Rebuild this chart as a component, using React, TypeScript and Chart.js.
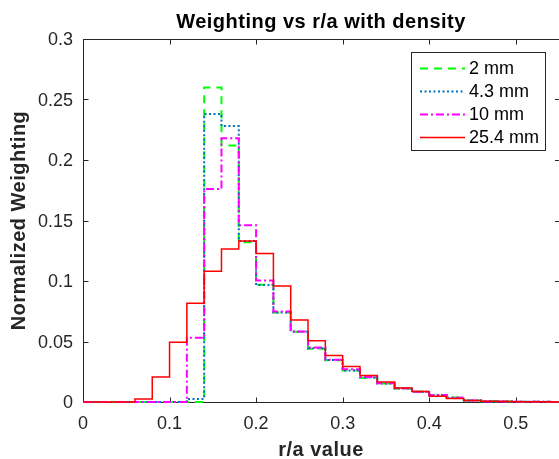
import React, { useEffect, useRef } from 'react';
import { Chart, registerables } from 'chart.js';

Chart.register(...registerables);

// r/a bin edges (left edge of each stairs step)
const binEdges = [
  0, 0.02, 0.04, 0.06, 0.08, 0.1, 0.12, 0.14, 0.16, 0.18,
  0.2, 0.22, 0.24, 0.26, 0.28, 0.3, 0.32, 0.34, 0.36, 0.38,
  0.4, 0.42, 0.44, 0.46, 0.48, 0.5, 0.52, 0.54, 0.56, 0.58,
];

const weight2mm = [
  0, 0, 0, 0, 0, 0, 0, 0.26, 0.212, 0.132,
  0.097, 0.074, 0.058, 0.044, 0.0345, 0.026, 0.02, 0.0152, 0.0112, 0.0085,
  0.0058, 0.0037, 0.0013, 0.0006, 0.0004, 0.0003, 0.0002, 0.0001, 0.0001, 0,
];

const weight4p3mm = [
  0, 0, 0, 0, 0, 0, 0.0025, 0.238, 0.228, 0.133,
  0.0967, 0.074, 0.058, 0.0445, 0.0347, 0.026, 0.0202, 0.0153, 0.0112, 0.0085,
  0.0058, 0.0036, 0.0013, 0.0006, 0.0004, 0.0003, 0.0002, 0.0001, 0.0001, 0,
];

const weight10mm = [
  0, 0, 0, 0, 0, 0, 0.053, 0.176, 0.218, 0.146,
  0.1005, 0.0747, 0.0582, 0.045, 0.035, 0.027, 0.0207, 0.0154, 0.0113, 0.0085,
  0.0058, 0.0036, 0.0012, 0.0005, 0.0004, 0.0003, 0.0002, 0.0001, 0.0001, 0,
];

const weight25p4mm = [
  0, 0, 0, 0.0025, 0.0206, 0.0494, 0.0816, 0.108, 0.1264, 0.133,
  0.1228, 0.0959, 0.0678, 0.0506, 0.0384, 0.0293, 0.022, 0.0165, 0.0115, 0.0087,
  0.0048, 0.0029, 0.0012, 0.0006, 0.0004, 0.0003, 0.0002, 0.0001, 0.0001, 0,
];

const seriesLabels = ['2 mm', '4.3 mm', '10 mm', '25.4 mm'];

const xTickValues = [0, 0.1, 0.2, 0.3, 0.4, 0.5];
const xTickLabels = ['0', '0.1', '0.2', '0.3', '0.4', '0.5'];
const yTickValues = [0, 0.05, 0.1, 0.15, 0.2, 0.25, 0.3];
const yTickLabels = ['0', '0.05', '0.1', '0.15', '0.2', '0.25', '0.3'];

const chartTitle = 'Weighting vs r/a with density';
const xAxisTitle = 'r/a value';
const yAxisTitle = 'Normalized Weighting';

const FONT = "'Liberation Sans', Arial, Helvetica, sans-serif";
const AXIS_COLOR = '#262626';

function setSpacing(ctx: any, v: string) {
  try {
    if ('letterSpacing' in ctx) ctx.letterSpacing = v;
  } catch (e) {
    /* ignore */
  }
}

const framePlugin = {
  id: 'frame',
  beforeDatasetsDraw(chart: any) {
    const { ctx, chartArea } = chart;
    const { left, right, top, bottom } = chartArea;
    const xs = chart.scales.x;
    const ys = chart.scales.y;
    const L = Math.round(left) + 0.5;
    const R = Math.round(right) - 0.5;
    const T = Math.round(top) + 0.5;
    const B = Math.round(bottom) + 0.5;
    ctx.save();
    ctx.strokeStyle = AXIS_COLOR;
    ctx.lineWidth = 1;
    ctx.beginPath();
    ctx.moveTo(L, T);
    ctx.lineTo(R + 2, T);
    ctx.moveTo(L, B);
    ctx.lineTo(R + 2, B);
    ctx.moveTo(L, T);
    ctx.lineTo(L, B);
    const tl = 5;
    xTickValues.forEach((v) => {
      const px = Math.round(xs.getPixelForValue(v)) + 0.5;
      ctx.moveTo(px, B);
      ctx.lineTo(px, B - tl);
      ctx.moveTo(px, T);
      ctx.lineTo(px, T + tl);
    });
    yTickValues.forEach((v) => {
      const py = Math.round(ys.getPixelForValue(v)) + 0.5;
      ctx.moveTo(L, py);
      ctx.lineTo(L + tl, py);
      ctx.moveTo(right + 1, py);
      ctx.lineTo(right + 1 - tl, py);
    });
    ctx.stroke();
    ctx.restore();
  },
  afterDraw(chart: any) {
    const { ctx, chartArea } = chart;
    ctx.save();
    // chart title
    ctx.fillStyle = '#000000';
    ctx.font = `bold 20px ${FONT}`;
    setSpacing(ctx, '0.5px');
    ctx.textAlign = 'center';
    ctx.textBaseline = 'alphabetic';
    ctx.fillText(chartTitle, (chartArea.left + chartArea.right) / 2, 28);

    // axis titles
    ctx.fillStyle = AXIS_COLOR;
    ctx.fillText(xAxisTitle, (chartArea.left + chartArea.right) / 2, 456);
    ctx.save();
    ctx.translate(25, (chartArea.top + chartArea.bottom) / 2);
    ctx.rotate(-Math.PI / 2);
    ctx.fillText(yAxisTitle, 0, 0);
    ctx.restore();
    setSpacing(ctx, '0px');

    // legend
    const bx = 411.5;
    const by = 52.5;
    const bw = 134;
    const bh = 98;
    ctx.fillStyle = '#ffffff';
    ctx.fillRect(bx, by, bw, bh);
    ctx.strokeStyle = AXIS_COLOR;
    ctx.lineWidth = 1;
    ctx.strokeRect(bx, by, bw, bh);
    const rowY = [68.5, 91.5, 114.5, 137.5];
    chart.data.datasets.forEach((ds: any, i: number) => {
      const y = rowY[i];
      ctx.beginPath();
      ctx.strokeStyle = ds.borderColor;
      ctx.lineWidth = ds.borderWidth;
      ctx.setLineDash(ds.borderDash || []);
      ctx.moveTo(420, y);
      ctx.lineTo(465, y);
      ctx.stroke();
      ctx.setLineDash([]);
      ctx.fillStyle = '#000000';
      ctx.font = `18px ${FONT}`;
      ctx.textAlign = 'left';
      ctx.textBaseline = 'middle';
      ctx.fillText(ds.label, 469, y + 1);
    });
    ctx.restore();
  },
};

function makeData(values: number[]) {
  return binEdges.map((x, i) => ({ x, y: values[i] }));
}

export default function App() {
  const canvasRef = useRef<HTMLCanvasElement | null>(null);

  useEffect(() => {
    const canvas = canvasRef.current;
    if (!canvas) return;
    const chart = new Chart(canvas, {
      type: 'line',
      data: {
        datasets: [
          {
            label: seriesLabels[0],
            data: makeData(weight2mm),
            borderColor: '#00ff00',
            borderWidth: 2,
            borderDash: [8, 6],
            stepped: 'before',
            pointRadius: 0,
            fill: false,
            order: 4,
            clip: false,
          },
          {
            label: seriesLabels[1],
            data: makeData(weight4p3mm),
            borderColor: '#0072bd',
            borderWidth: 2,
            borderDash: [2, 2.5],
            stepped: 'before',
            pointRadius: 0,
            fill: false,
            order: 3,
            clip: false,
          },
          {
            label: seriesLabels[2],
            data: makeData(weight10mm),
            borderColor: '#ff00ff',
            borderWidth: 2,
            borderDash: [8, 3, 2, 3],
            stepped: 'before',
            pointRadius: 0,
            fill: false,
            order: 2,
            clip: false,
          },
          {
            label: seriesLabels[3],
            data: makeData(weight25p4mm),
            borderColor: '#ff0000',
            borderWidth: 1.5,
            stepped: 'before',
            pointRadius: 0,
            fill: false,
            order: 1,
            clip: false,
          },
        ] as any,
      },
      options: {
        animation: false,
        responsive: false,
        maintainAspectRatio: false,
        layout: { padding: { top: 39, left: 0, right: 0, bottom: 0 } },
        plugins: {
          legend: { display: false },
          title: { display: false },
          tooltip: { enabled: false },
        },
        scales: {
          x: {
            type: 'linear',
            min: 0,
            max: 0.55,
            grid: { display: false, drawTicks: false },
            border: { display: false },
            afterBuildTicks: (s: any) => {
              s.ticks = xTickValues.map((v) => ({ value: v }));
            },
            afterFit: (s: any) => {
              s.height = 57;
            },
            ticks: {
              padding: 11,
              color: AXIS_COLOR,
              font: { family: FONT, size: 18 },
              maxRotation: 0,
              autoSkip: false,
              callback: (_v: any, i: number) => xTickLabels[i],
            },
          },
          y: {
            type: 'linear',
            min: 0,
            max: 0.3,
            grid: { display: false, drawTicks: false },
            border: { display: false },
            afterBuildTicks: (s: any) => {
              s.ticks = yTickValues.map((v) => ({ value: v }));
            },
            afterFit: (s: any) => {
              s.width = 83;
            },
            ticks: {
              padding: 10,
              labelOffset: 1.5,
              color: AXIS_COLOR,
              font: { family: FONT, size: 18 },
              autoSkip: false,
              callback: (_v: any, i: number) => yTickLabels[i],
            },
          },
        },
      } as any,
      plugins: [framePlugin],
    });
    return () => chart.destroy();
  }, []);

  return (
    <div
      style={{
        position: 'fixed',
        left: 0,
        top: 0,
        width: 559,
        height: 459,
        background: '#ffffff',
      }}
    >
      <canvas ref={canvasRef} width={559} height={459} style={{ display: 'block' }} />
    </div>
  );
}
